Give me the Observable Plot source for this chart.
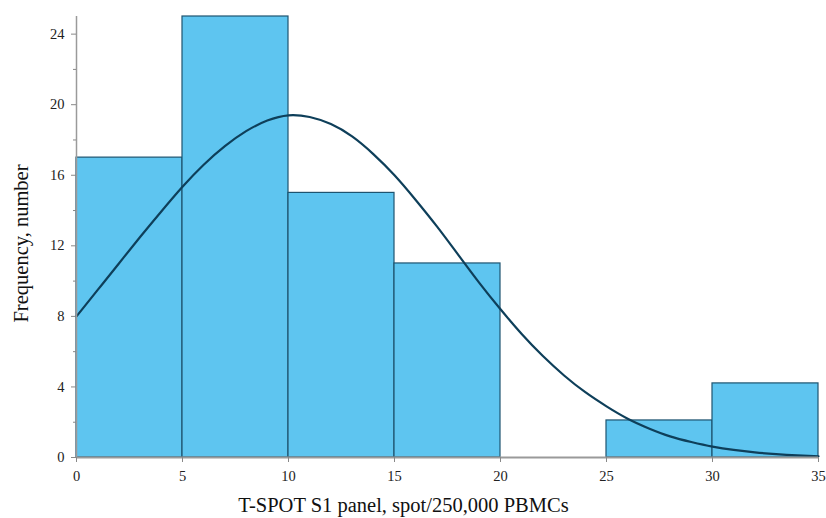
<!DOCTYPE html>
<html>
<head>
<meta charset="utf-8">
<script src="https://cdn.jsdelivr.net/npm/d3@7"></script>
<script src="https://cdn.jsdelivr.net/npm/@observablehq/plot@0.6"></script>
<style>
  html, body { margin: 0; padding: 0; background: #fff; }
  svg text { font-family: 'Liberation Serif', 'Times New Roman', serif; }
</style>
</head>
<body>
<div id="chart"></div>
<script>
// Histogram bins (spot/250,000 PBMCs)
const binStart = [0, 5, 10, 15, 20, 25, 30];
const binEnd   = [5, 10, 15, 20, 25, 30, 35];
const counts   = [17, 25, 15, 11, 0, 2.1, 4.2];

// Fitted curve
const curveX = [0,1,2,3,4,5,6,7,8,9,10,11,12,13,14,15,16,17,18,19,20,21,22,23,24,25,26,27,28,29,30,31,32,33,34,35];
const curveY = [8.0,9.5,11.0,12.5,13.95,15.35,16.6,17.65,18.5,19.1,19.4,19.3,18.9,18.2,17.2,16.0,14.6,13.1,11.5,9.9,8.4,7.0,5.75,4.65,3.7,2.9,2.2,1.65,1.2,0.88,0.62,0.43,0.29,0.19,0.12,0.07];

const xTicks = [0, 5, 10, 15, 20, 25, 30, 35];
const yTicks = [0, 4, 8, 12, 16, 20, 24];
const yMinorTicks = [2, 6, 10, 14, 18, 22];
const xLabel = "T-SPOT S1 panel, spot/250,000 PBMCs";
const yLabel = "Frequency, number";

const bins = binStart.map((s, i) => ({x1: s, x2: binEnd[i], count: counts[i]})).filter(d => d.count > 0);
const curve = curveX.map((x, i) => ({x, y: curveY[i]}));
const serif = "'Liberation Serif', 'Times New Roman', serif";

const chart = Plot.plot({
  width: 826,
  height: 518,
  marginLeft: 76,
  marginRight: 8,
  marginTop: 16,
  marginBottom: 61,
  style: {fontFamily: serif, fontSize: "14px", color: "#222", background: "#fff"},
  x: {domain: [0, 35]},
  y: {domain: [0, 25]},
  marks: [
    Plot.rect(bins, {x1: "x1", x2: "x2", y1: 0, y2: "count", fill: "#5EC5F0", stroke: "#1E5470", strokeWidth: 1.2}),
    Plot.line(curve, {x: "x", y: "y", curve: "natural", stroke: "#0E3F5A", strokeWidth: 2.2}),
    Plot.ruleX([0], {stroke: "#9a9a9a", strokeWidth: 1.5}),
    Plot.ruleY([0], {stroke: "#9a9a9a", strokeWidth: 2}),
    Plot.axisY({ticks: yTicks, tickSize: 5, tickPadding: 7, stroke: "#888", fill: "#222", fontFamily: serif, fontSize: 14.5, label: null}),
    Plot.axisY({ticks: yMinorTicks, tickSize: 3, stroke: "#888", text: null, label: null}),
    Plot.axisX({ticks: xTicks, tickSize: 5, tickPadding: 8, stroke: "#888", fill: "#222", fontFamily: serif, fontSize: 14.5, label: null}),
    Plot.text([yLabel], {text: d => d, frameAnchor: "left", textAnchor: "middle", lineAnchor: "middle", rotate: -90, dx: -55.5, dy: 6.5, fontFamily: serif, fontSize: 20.5, fill: "#111"}),
    Plot.text([xLabel], {text: d => d, frameAnchor: "bottom", textAnchor: "middle", lineAnchor: "middle", dx: -44, dy: 48, fontFamily: serif, fontSize: 20.5, fill: "#111"})
  ]
});
document.getElementById("chart").appendChild(chart);
</script>
</body>
</html>
